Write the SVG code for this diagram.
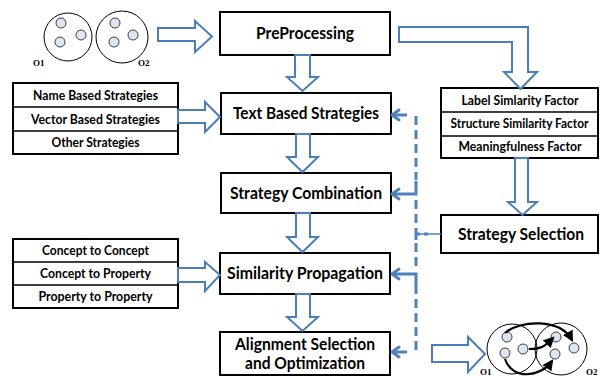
<svg xmlns="http://www.w3.org/2000/svg" width="600" height="376" viewBox="0 0 600 376">
<defs>
<style>
.box{fill:#fff;stroke:#000;stroke-width:2}
.blk{fill:#fff;stroke:#4A7EBB;stroke-width:2;stroke-linejoin:miter}
.t{font-family:Lato,"Open Sans","Liberation Sans",sans-serif;font-weight:bold;fill:#000;text-anchor:middle}
.big{font-size:17px}
.sm{font-size:13px}
.dash{fill:none;stroke:#4F81BD;stroke-width:3;stroke-dasharray:9,5}
.sol{fill:none;stroke:#4F81BD;stroke-width:3}
.chev{fill:none;stroke:#4F81BD;stroke-width:3;stroke-linecap:round;stroke-linejoin:round}
.oc{fill:none;stroke:#000;stroke-width:1}
.ic{fill:#dce6f2;stroke:#404040;stroke-width:1}
.ol{font-family:"Liberation Serif",serif;font-weight:bold;font-size:9px;fill:#000}
.carr{fill:none;stroke:#000;stroke-width:2.2}
</style>
<marker id="ah" viewBox="0 0 10 10" refX="8" refY="5" markerWidth="5" markerHeight="5" orient="auto">
<path d="M0,0 L10,5 L0,10 z" fill="#000"/>
</marker>
</defs>

<g id="ontologies-in">
<circle class="oc" cx="68" cy="37" r="24"/>
<circle class="oc" cx="122" cy="37" r="26"/>
<circle class="ic" cx="61" cy="23" r="5"/>
<circle class="ic" cx="81" cy="35" r="5"/>
<circle class="ic" cx="60" cy="42" r="5"/>
<circle class="ic" cx="115" cy="23" r="5"/>
<circle class="ic" cx="133" cy="35" r="5"/>
<circle class="ic" cx="114" cy="42" r="5"/>
<text class="ol" x="33" y="66">O1</text>
<text class="ol" x="138" y="66">O2</text>
</g>

<g id="preprocessing">
<rect class="box" x="220" y="12" width="170" height="43"/>
<text class="t big" x="305" y="39" textLength="98" lengthAdjust="spacingAndGlyphs">PreProcessing</text>
</g>

<g id="text-based">
<rect class="box" x="221" y="93" width="170" height="41"/>
<text class="t big" x="306" y="119" textLength="146" lengthAdjust="spacingAndGlyphs">Text Based Strategies</text>
</g>

<g id="strategy-combination">
<rect class="box" x="221" y="173" width="170" height="40"/>
<text class="t big" x="306" y="199" textLength="152" lengthAdjust="spacingAndGlyphs">Strategy Combination</text>
</g>

<g id="similarity-propagation">
<rect class="box" x="220" y="253" width="170" height="41"/>
<text class="t big" x="305" y="279" textLength="156" lengthAdjust="spacingAndGlyphs">Similarity Propagation</text>
</g>

<g id="alignment-selection">
<rect class="box" x="220" y="332" width="170" height="43"/>
<text class="t big" x="305" y="350" textLength="140" lengthAdjust="spacingAndGlyphs">Alignment Selection</text>
<text class="t big" x="305" y="369" textLength="120" lengthAdjust="spacingAndGlyphs">and Optimization</text>
</g>

<g id="factors">
<rect class="box" x="441" y="88" width="157" height="70"/>
<line x1="441" y1="112" x2="598" y2="112" stroke="#000" stroke-width="1.5"/>
<line x1="441" y1="136" x2="598" y2="136" stroke="#000" stroke-width="1.5"/>
<text class="t sm" x="520" y="105" textLength="117" lengthAdjust="spacingAndGlyphs">Label Simlarity Factor</text>
<text class="t sm" x="519.5" y="128" textLength="138" lengthAdjust="spacingAndGlyphs">Structure Similarity Factor</text>
<text class="t sm" x="520" y="151" textLength="123" lengthAdjust="spacingAndGlyphs">Meaningfulness Factor</text>
</g>

<g id="strategy-selection">
<rect class="box" x="441" y="215" width="157" height="38"/>
<text class="t big" x="521" y="240" textLength="126" lengthAdjust="spacingAndGlyphs">Strategy Selection</text>
</g>

<g id="strategies-list">
<rect class="box" x="13" y="83" width="165" height="71"/>
<line x1="13" y1="107" x2="178" y2="107" stroke="#000" stroke-width="1.5"/>
<line x1="13" y1="131" x2="178" y2="131" stroke="#000" stroke-width="1.5"/>
<text class="t sm" x="95.5" y="100" textLength="125" lengthAdjust="spacingAndGlyphs">Name Based Strategies</text>
<text class="t sm" x="95.5" y="124" textLength="129" lengthAdjust="spacingAndGlyphs">Vector Based Strategies</text>
<text class="t sm" x="95.5" y="147" textLength="88" lengthAdjust="spacingAndGlyphs">Other Strategies</text>
</g>

<g id="propagation-list">
<rect class="box" x="13" y="239" width="165" height="69"/>
<line x1="13" y1="262" x2="178" y2="262" stroke="#000" stroke-width="1.5"/>
<line x1="13" y1="285" x2="178" y2="285" stroke="#000" stroke-width="1.5"/>
<text class="t sm" x="95.5" y="255" textLength="107" lengthAdjust="spacingAndGlyphs">Concept to Concept</text>
<text class="t sm" x="95.5" y="278" textLength="111" lengthAdjust="spacingAndGlyphs">Concept to Property</text>
<text class="t sm" x="95.5" y="301" textLength="114" lengthAdjust="spacingAndGlyphs">Property to Property</text>
</g>

<g id="ontologies-out">
<circle class="oc" cx="512" cy="349" r="25"/>
<circle class="oc" cx="561" cy="349" r="26"/>
<circle class="ic" cx="507" cy="337" r="5"/>
<circle class="ic" cx="523" cy="349" r="5"/>
<circle class="ic" cx="505" cy="353" r="5"/>
<circle class="ic" cx="556" cy="337" r="5"/>
<circle class="ic" cx="574" cy="348" r="5"/>
<circle class="ic" cx="555" cy="354" r="5"/>
<path class="carr" d="M505,333 C520,320 560,318 572,340" marker-end="url(#ah)"/>
<path class="carr" d="M529,349 C542,349 545,346 553,338" marker-end="url(#ah)"/>
<path class="carr" d="M505,359 C512,380 540,378 552,361" marker-end="url(#ah)"/>
<text class="ol" x="480" y="375">O1</text>
<text class="ol" x="586" y="375">O2</text>
</g>

<g id="connectors">
<polygon class="blk" points="158,28 195,28 195,21 212,36.5 195,52 195,41 158,41"/>
<polygon class="blk" points="295,55 310,55 310,77 318,77 302.5,91 287,77 295,77"/>
<polygon class="blk" points="399,27 528,27 528,72 537,72 520.5,89 504,72 512,72 512,42 399,42"/>
<polygon class="blk" points="296,134 310,134 310,157 318,157 302.5,172 287,157 296,157"/>
<polygon class="blk" points="296,213 310,213 310,237 318,237 302.5,252 287,237 296,237"/>
<polygon class="blk" points="296,294 310,294 310,317 318,317 302.5,331 287,317 296,317"/>
<polygon class="blk" points="515,158 528,158 528,202 537,202 522.5,215 508,202 515,202"/>
<polygon class="blk" points="178,110 205,110 205,102 220,117 205,132 205,123 178,123"/>
<polygon class="blk" points="178,268 205,268 205,262 220,275 205,291 205,282 178,282"/>
<polygon class="blk" points="432,345 468,345 468,337 485,354 468,372 468,362 432,362"/>

<line class="dash" x1="416" y1="116" x2="416" y2="180"/>
<line class="dash" x1="416" y1="200" x2="416" y2="226"/>
<line class="dash" x1="416" y1="243" x2="416" y2="268"/>
<line class="dash" x1="416" y1="285" x2="416" y2="352"/>
<line class="sol" x1="416" y1="228" x2="416" y2="240"/>
<line x1="416" y1="234" x2="441" y2="234" stroke="#4F81BD" stroke-width="1.5"/>
<line x1="416" y1="234" x2="430" y2="234" stroke="#4F81BD" stroke-width="3" stroke-dasharray="4,4"/>

<line class="sol" x1="392" y1="115" x2="407" y2="115"/>
<polyline class="chev" points="399,110 392,115 399,120"/>
<polyline class="sol" points="416,181 416,194 392,194"/>
<polyline class="chev" points="399,189 392,194 399,199"/>
<polyline class="sol" points="416,286 416,274 392,274"/>
<polyline class="chev" points="399,269 392,274 399,279"/>
<line class="sol" x1="392" y1="352" x2="407" y2="352"/>
<polyline class="chev" points="399,347 392,352 399,357"/>
</g>
</svg>
